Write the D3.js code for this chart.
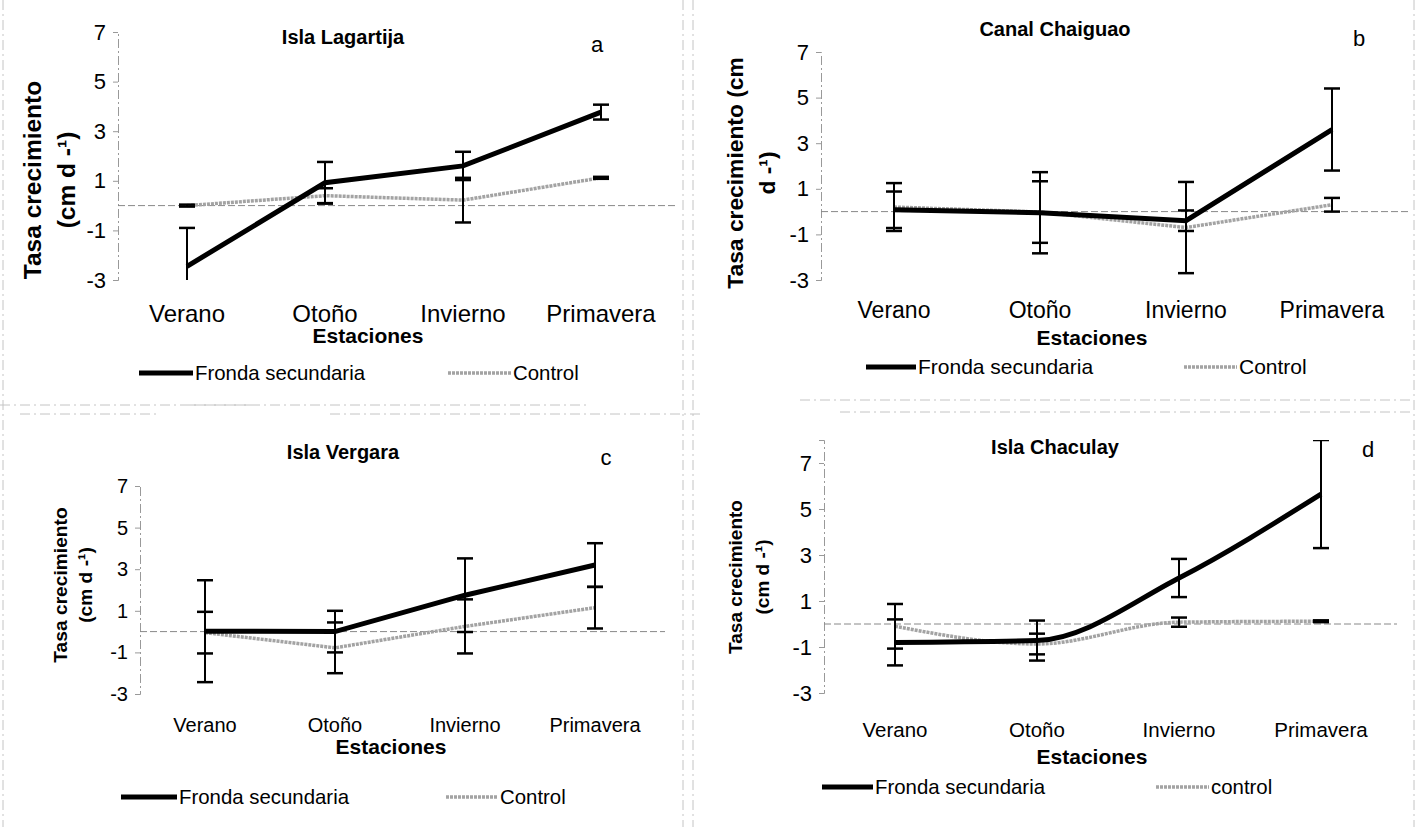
<!DOCTYPE html>
<html>
<head>
<meta charset="utf-8">
<script src="https://cdn.jsdelivr.net/npm/d3@7"></script>
<style>
  body { margin: 0; background: #fff; }
  svg { display: block; font-family: "Liberation Sans", Arial, sans-serif; }
</style>
</head>
<body>
<svg id="chart" width="1419" height="827"></svg>
<script>
// data
const categories = ["Verano", "Otoño", "Invierno", "Primavera"];
const yTicks = [-3, -1, 1, 3, 5, 7];

const frondaA = [-2.45, 0.92, 1.6, 3.77];
const frondaErrA = [1.55, 0.84, 0.57, 0.3];
const controlA = [0.0, 0.4, 0.22, 1.12];
const controlErrA = [0.04, 0.3, 0.9, 0.04];

const frondaB = [0.08, -0.05, -0.4, 3.6];
const frondaErrB = [0.8, 1.78, 0.45, 1.8];
const controlB = [0.2, -0.02, -0.7, 0.3];
const controlErrB = [1.05, 1.35, 2.0, 0.3];

const frondaC = [0.02, 0.0, 1.75, 3.2];
const frondaErrC = [2.45, 1.0, 1.77, 1.05];
const controlC = [-0.05, -0.78, 0.25, 1.15];
const controlErrC = [1.0, 1.22, 1.3, 1.0];

const frondaD = [-0.8, -0.72, 2.0, 5.65];
const frondaErrD = [1.0, 0.87, 0.83, 2.35];
const controlD = [-0.1, -0.87, 0.08, 0.12];
const controlErrD = [0.97, 0.45, 0.2, 0.04];

const titles = ["Isla Lagartija", "Canal Chaiguao", "Isla Vergara", "Isla Chaculay"];
const letters = ["a", "b", "c", "d"];
const controlNames = ["Control", "Control", "Control", "control"];

// layout of each panel (pixels)
const panels = [
  { fronda: frondaA, fErr: frondaErrA, control: controlA, cErr: controlErrA,
    x0: 118, x1: 670, yMax: 7, y0: 280, y1: 32,
    tick: 22, cat: 24, catY: 322, est: [368, 343], ttl: [343, 44], let: [597, 52],
    yt: 24.5, ytLines: ["Tasa crecimiento", "(cm d -¹)"], ytX: [41, 75], ytY: 180,
    leg: { y: 373, f: [139, 193], c: [448, 511], fs: 20.4 }, smooth: false },
  { fronda: frondaB, fErr: frondaErrB, control: controlB, cErr: controlErrB,
    x0: 821, x1: 1405, yMax: 7, y0: 280, y1: 52,
    tick: 22, cat: 23, catY: 318, est: [1092, 345], ttl: [1055, 36], let: [1359, 46],
    yt: 22.8, ytLines: ["Tasa crecimiento (cm", "d -¹)"], ytX: [743, 775], ytY: 173,
    leg: { y: 367, f: [866, 916], c: [1184, 1237], fs: 21 }, smooth: false },
  { fronda: frondaC, fErr: frondaErrC, control: controlC, cErr: controlErrC,
    x0: 140, x1: 660, yMax: 7, y0: 694, y1: 486,
    tick: 20, cat: 20, catY: 732, est: [391, 754], ttl: [343, 459], let: [606, 465],
    yt: 19.2, ytLines: ["Tasa crecimiento", "(cm d -¹)"], ytX: [67, 92], ytY: 585,
    leg: { y: 797, f: [121, 177], c: [446, 498], fs: 20.4 }, smooth: false },
  { fronda: frondaD, fErr: frondaErrD, control: controlD, cErr: controlErrD,
    x0: 824, x1: 1392, yMax: 8, y0: 693, y1: 440,
    tick: 22, cat: 20.5, catY: 737, est: [1092, 764], ttl: [1055, 454], let: [1368, 457],
    yt: 19, ytLines: ["Tasa crecimiento", "(cm d -¹)"], ytX: [742, 769], ytY: 577,
    leg: { y: 787, f: [822, 873], c: [1156, 1209], fs: 20.4 }, smooth: true }
];

const svg = d3.select("#chart");
const GREY = "#999";

// faint scanned frame lines
const frame = svg.append("g").attr("stroke", "#c4c4c4").attr("stroke-width", 1)
  .attr("stroke-dasharray", "10 4 2 4").attr("fill", "none");
[[3, 0, 3, 827], [683, 0, 683, 827], [693, 0, 693, 827], [1414, 0, 1414, 827]]
  .forEach(l => frame.append("line").attr("x1", l[0]).attr("y1", l[1]).attr("x2", l[2]).attr("y2", l[3]));
[[0, 405, 250], [190, 405, 590], [20, 414, 160], [330, 414, 700], [800, 400, 1410], [840, 412, 1410]]
  .forEach(l => frame.append("line").attr("x1", l[0]).attr("y1", l[1]).attr("x2", l[2]).attr("y2", l[1]));

panels.forEach((p, i) => {
  const g = svg.append("g");
  const x = d3.scaleBand().domain(categories).range([p.x0, p.x1]);
  const y = d3.scaleLinear().domain([-3, p.yMax]).range([p.y0, p.y1]);
  const cx = d => x(d) + x.bandwidth() / 2;

  const clipId = "clip" + i;
  svg.append("clipPath").attr("id", clipId).append("rect")
    .attr("x", p.x0 - 20).attr("y", y(p.yMax)).attr("width", p.x1 - p.x0 + 40)
    .attr("height", y(-3) - y(p.yMax));

  // y axis
  const axis = d3.axisLeft(y).tickValues(yTicks).tickSize(5).tickPadding(7)
    .tickFormat(d => String(d));
  const ag = g.append("g").attr("transform", `translate(${p.x0},0)`).call(axis);
  ag.attr("font-size", p.tick).attr("font-family", "Liberation Sans, Arial, sans-serif");
  ag.select(".domain").attr("stroke", GREY).attr("stroke-dasharray", "9 3 2 3");
  ag.selectAll(".tick line").attr("stroke", GREY);
  ag.selectAll(".tick text").style("font-size", p.tick + "px").attr("fill", "#000");

  // zero line
  g.append("line").attr("x1", p.x0).attr("x2", p.x1 + 5)
    .attr("y1", y(0)).attr("y2", y(0))
    .attr("stroke", "#888").attr("stroke-width", 1).attr("stroke-dasharray", "7 3");

  // category labels
  g.selectAll(".cat").data(categories).enter().append("text")
    .attr("x", d => cx(d)).attr("y", p.catY)
    .attr("text-anchor", "middle").attr("font-size", p.cat).text(d => d);

  g.append("text").attr("x", p.est[0]).attr("y", p.est[1])
    .attr("text-anchor", "middle").attr("font-size", 21).attr("font-weight", "bold")
    .text("Estaciones");

  g.append("text").attr("x", p.ttl[0]).attr("y", p.ttl[1])
    .attr("text-anchor", "middle").attr("font-size", 20).attr("font-weight", "bold")
    .text(titles[i]);

  g.append("text").attr("x", p.let[0]).attr("y", p.let[1])
    .attr("text-anchor", "middle").attr("font-size", 22).text(letters[i]);

  // y title (two rotated lines)
  p.ytLines.forEach((t, k) => {
    g.append("text")
      .attr("transform", `translate(${p.ytX[k]},${p.ytY}) rotate(-90)`)
      .attr("text-anchor", "middle").attr("font-size", p.yt).attr("font-weight", "bold")
      .text(t);
  });

  const curve = p.smooth ? d3.curveMonotoneX : d3.curveLinear;
  const line = d3.line().x((d, j) => cx(categories[j])).y(d => y(d)).curve(curve);

  // control series
  g.append("path").datum(p.control).attr("d", line)
    .attr("fill", "none").attr("stroke", "#a3a3a3").attr("stroke-width", 3.5)
    .attr("stroke-dasharray", "3 1");
  // fronda series
  g.append("path").datum(p.fronda).attr("d", line)
    .attr("fill", "none").attr("stroke", "#000").attr("stroke-width", 5);

  // error bars
  const eg = g.append("g").attr("clip-path", `url(#${clipId})`)
    .attr("stroke", "#000").attr("stroke-width", 2);
  [[p.fronda, p.fErr], [p.control, p.cErr]].forEach(([vals, errs]) => {
    vals.forEach((v, j) => {
      const xx = cx(categories[j]);
      const lo = y(v - errs[j]), hi = y(v + errs[j]);
      eg.append("line").attr("x1", xx).attr("x2", xx).attr("y1", lo).attr("y2", hi);
      [lo, hi].forEach(yy => {
        eg.append("line").attr("x1", xx - 8).attr("x2", xx + 8)
          .attr("y1", yy).attr("y2", yy).attr("stroke-width", 2.5);
      });
    });
  });

  // legend
  const L = p.leg;
  g.append("line").attr("x1", L.f[0]).attr("x2", L.f[1]).attr("y1", L.y).attr("y2", L.y)
    .attr("stroke", "#000").attr("stroke-width", 5);
  g.append("text").attr("x", L.f[1] + 2).attr("y", L.y + 7).attr("font-size", L.fs)
    .text("Fronda secundaria");
  g.append("line").attr("x1", L.c[0]).attr("x2", L.c[1]).attr("y1", L.y).attr("y2", L.y)
    .attr("stroke", "#a3a3a3").attr("stroke-width", 3.5).attr("stroke-dasharray", "3 1");
  g.append("text").attr("x", L.c[1] + 2).attr("y", L.y + 7).attr("font-size", L.fs)
    .text(controlNames[i]);
});
</script>
</body>
</html>
